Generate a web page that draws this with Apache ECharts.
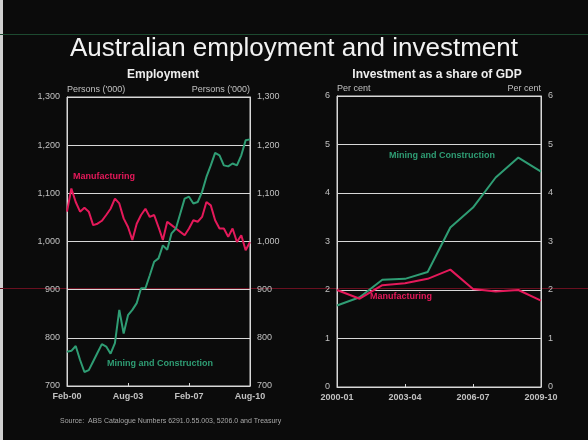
<!DOCTYPE html>
<html><head><meta charset="utf-8">
<script src="https://cdn.jsdelivr.net/npm/echarts@6/dist/echarts.min.js"></script>
<style>html,body{margin:0;padding:0;background:#0b0b0b}#c{width:588px;height:440px}</style>
</head><body><div id="c"></div>
<script>
// Employment, quarterly Feb-00 .. Aug-10 (persons '000)
const empQuarters = (function(){
  const m=['Feb','May','Aug','Nov']; const out=[];
  for(let y=0;y<=10;y++){ for(let q=0;q<4;q++){ if(y===10&&q>2) break; out.push(m[q]+'-'+String(y).padStart(2,'0')); } }
  return out;
})();
const empManufacturing = [1062,1110,1082,1062,1070,1062,1034,1037,1043,1055,1068,1089,1079,1048,1030,1003,1037,1055,1068,1051,1055,1030,1003,1041,1034,1027,1020,1013,1027,1044,1041,1051,1082,1075,1044,1027,1027,1010,1027,999,1013,982,999];
const empMiningConstruction = [771,773,783,754,729,733,751,769,787,782,767,789,858,809,847,858,872,903,903,930,958,965,992,983,1017,1027,1058,1089,1093,1079,1082,1103,1134,1158,1184,1179,1158,1156,1162,1158,1179,1210,1212];
// Investment as share of GDP, financial years
const invYears = ['2000-01','2001-02','2002-03','2003-04','2004-05','2005-06','2006-07','2007-08','2008-09','2009-10'];
const invMiningConstruction = [1.68,1.85,2.21,2.23,2.37,3.29,3.70,4.32,4.73,4.44];
const invManufacturing = [2.00,1.82,2.10,2.14,2.23,2.42,2.02,1.97,2.00,1.78];
const empTicks = [700,800,900,1000,1100,1200,1300];
const invTicks = [0,1,2,3,4,5,6];

const RED='#e4195a', GREEN='#2f9d74', TXT='#c0c0c0', LINE='#d8d8d8';
const fam='"Liberation Sans", Arial, sans-serif';
const chart = echarts.init(document.getElementById('c'));
function yAx(grid, pos, min, max, interval, name, fmt){
  return {type:'value', gridIndex:grid, position:pos, min, max, interval,
    name, nameLocation:'end', nameGap:3,
    nameTextStyle:{color:TXT, fontSize:9, fontFamily:fam, align: pos==='left'?'left':'right', verticalAlign:'bottom'},
    axisLine:{show:true, lineStyle:{color:LINE, width:1}}, axisTick:{show:false},
    axisLabel:{color:TXT, fontSize:9, fontFamily:fam, margin:7, formatter:fmt},
    splitLine:{show: pos==='left', lineStyle:{color:LINE, width:1}}};
}
const numFmt = v => v.toLocaleString('en-US');
chart.setOption({
  backgroundColor:'#0b0b0b',
  animation:false,
  title:[
    {text:'Australian employment and investment', left:'center', top:31, textStyle:{color:'#f2f2f2', fontSize:26, fontWeight:'normal', fontFamily:fam}},
    {text:'Employment', left:158, top:64, textAlign:'center', textStyle:{color:'#eeeeee', fontSize:12, fontWeight:'bold', fontFamily:fam}},
    {text:'Investment as a share of GDP', left:432, top:64, textAlign:'center', textStyle:{color:'#eeeeee', fontSize:12, fontWeight:'bold', fontFamily:fam}}
  ],
  grid:[
    {left:67, right:338, top:97, bottom:54, show:true, borderColor:LINE, borderWidth:1, backgroundColor:'transparent'},
    {left:337, right:47, top:96, bottom:53, show:true, borderColor:LINE, borderWidth:1, backgroundColor:'transparent'}
  ],
  xAxis:[
    {type:'category', gridIndex:0, data:empQuarters, boundaryGap:false,
     axisLine:{lineStyle:{color:LINE}}, axisTick:{inside:true, length:3, interval:13, lineStyle:{color:LINE}},
     axisLabel:{interval:13, color:TXT, fontSize:9, fontWeight:'bold', fontFamily:fam, margin:6}},
    {type:'category', gridIndex:1, data:invYears, boundaryGap:false,
     axisLine:{lineStyle:{color:LINE}}, axisTick:{inside:true, length:3, interval:2, lineStyle:{color:LINE}},
     axisLabel:{interval:2, color:TXT, fontSize:9, fontWeight:'bold', fontFamily:fam, margin:6}}
  ],
  yAxis:[
    yAx(0,'left',empTicks[0],empTicks[empTicks.length-1],100,"Persons ('000)",numFmt),
    yAx(0,'right',empTicks[0],empTicks[empTicks.length-1],100,"Persons ('000)",numFmt),
    yAx(1,'left',invTicks[0],invTicks[invTicks.length-1],1,'Per cent',null),
    yAx(1,'right',invTicks[0],invTicks[invTicks.length-1],1,'Per cent',null)
  ],
  series:[
    {type:'line', xAxisIndex:0, yAxisIndex:0, data:empManufacturing, showSymbol:false, lineStyle:{color:RED, width:2}, z:3},
    {type:'line', xAxisIndex:0, yAxisIndex:0, data:empMiningConstruction, showSymbol:false, lineStyle:{color:GREEN, width:2}, z:3},
    {type:'line', xAxisIndex:1, yAxisIndex:2, data:invMiningConstruction, showSymbol:false, lineStyle:{color:GREEN, width:2}, z:3},
    {type:'line', xAxisIndex:1, yAxisIndex:2, data:invManufacturing, showSymbol:false, lineStyle:{color:RED, width:2}, z:3}
  ],
  graphic:[
    {type:'rect', left:0, top:0, shape:{width:3, height:440}, style:{fill:'#d0d0d0'}, z:-1},
    {type:'line', shape:{x1:0,y1:34.5,x2:588,y2:34.5}, style:{stroke:'#1d4a30', lineWidth:1}, z:-1},
    {type:'line', shape:{x1:0,y1:288.5,x2:588,y2:288.5}, style:{stroke:'#6a1020', lineWidth:1}, z:-1},
    {type:'text', left:73, top:172, style:{text:'Manufacturing', fill:RED, font:'bold 9px '+fam}},
    {type:'text', left:107, top:359, style:{text:'Mining and Construction', fill:GREEN, font:'bold 9px '+fam}},
    {type:'text', left:389, top:151, style:{text:'Mining and Construction', fill:GREEN, font:'bold 9px '+fam}},
    {type:'text', left:370, top:292, style:{text:'Manufacturing', fill:RED, font:'bold 9px '+fam}},
    {type:'text', left:60, top:418, style:{text:'Source:  ABS Catalogue Numbers 6291.0.55.003, 5206.0 and Treasury', fill:'#a8a8a8', font:'7px '+fam}}
  ]
});
</script></body></html>
